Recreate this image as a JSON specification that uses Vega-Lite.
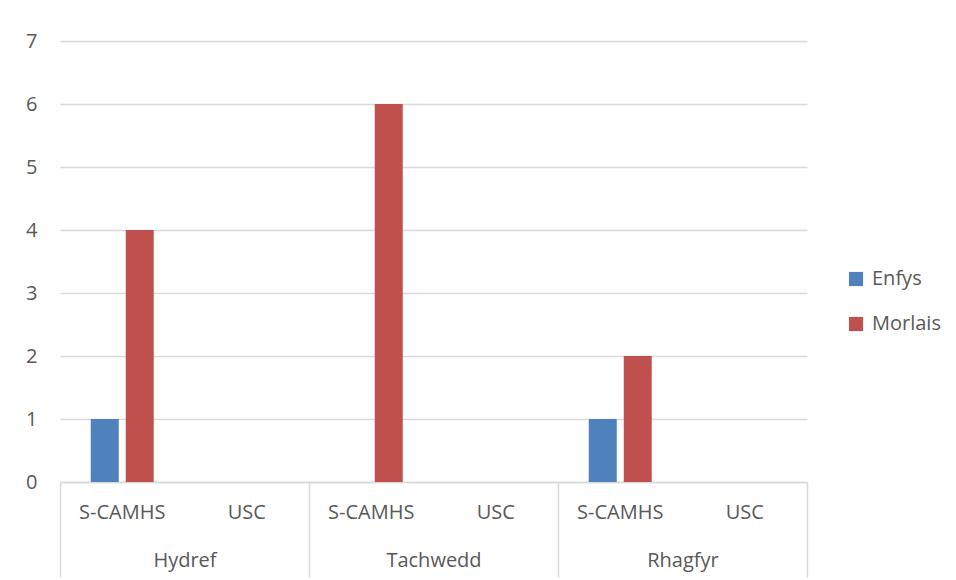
{
  "$schema": "https://vega.github.io/schema/vega-lite/v6.json",
  "width": 747,
  "height": 441,
  "autosize": "none",
  "padding": {"left": 60, "top": 41, "right": 149, "bottom": 98},
  "background": "white",
  "config": {
    "font": "Open Sans",
    "view": {"stroke": null}
  },
  "data": {
    "values": [
      {"cat": "Hydref/S-CAMHS", "month": "Hydref", "sub": "S-CAMHS", "series": "Enfys", "value": 1},
      {"cat": "Hydref/S-CAMHS", "month": "Hydref", "sub": "S-CAMHS", "series": "Morlais", "value": 4},
      {"cat": "Hydref/USC", "month": "Hydref", "sub": "USC", "series": "Enfys", "value": 0},
      {"cat": "Hydref/USC", "month": "Hydref", "sub": "USC", "series": "Morlais", "value": 0},
      {"cat": "Tachwedd/S-CAMHS", "month": "Tachwedd", "sub": "S-CAMHS", "series": "Enfys", "value": 0},
      {"cat": "Tachwedd/S-CAMHS", "month": "Tachwedd", "sub": "S-CAMHS", "series": "Morlais", "value": 6},
      {"cat": "Tachwedd/USC", "month": "Tachwedd", "sub": "USC", "series": "Enfys", "value": 0},
      {"cat": "Tachwedd/USC", "month": "Tachwedd", "sub": "USC", "series": "Morlais", "value": 0},
      {"cat": "Rhagfyr/S-CAMHS", "month": "Rhagfyr", "sub": "S-CAMHS", "series": "Enfys", "value": 1},
      {"cat": "Rhagfyr/S-CAMHS", "month": "Rhagfyr", "sub": "S-CAMHS", "series": "Morlais", "value": 2},
      {"cat": "Rhagfyr/USC", "month": "Rhagfyr", "sub": "USC", "series": "Enfys", "value": 0},
      {"cat": "Rhagfyr/USC", "month": "Rhagfyr", "sub": "USC", "series": "Morlais", "value": 0}
    ]
  },
  "layer": [
    {
      "mark": {"type": "bar"},
      "encoding": {
        "x": {
          "field": "cat",
          "type": "nominal",
          "sort": null,
          "scale": {"paddingInner": 0, "paddingOuter": 0},
          "axis": {
            "orient": "bottom",
            "title": null,
            "labelAngle": 0,
            "labelExpr": "split(datum.label, '/')[1]",
            "labelFontSize": 20,
            "labelColor": "#595959",
            "labelBaseline": "middle",
            "labelPadding": 30,
            "ticks": false,
            "domain": true,
            "domainColor": "#d9d9d9",
            "domainWidth": 1.5,
            "grid": false
          }
        },
        "xOffset": {
          "field": "series",
          "type": "nominal",
          "scale": {"paddingInner": 0.2, "paddingOuter": 0.879}
        },
        "y": {
          "field": "value",
          "type": "quantitative",
          "scale": {"domain": [0, 7], "nice": false},
          "axis": {
            "title": null,
            "values": [0, 1, 2, 3, 4, 5, 6, 7],
            "labelFontSize": 20,
            "labelColor": "#595959",
            "labelPadding": 23,
            "ticks": false,
            "domain": false,
            "grid": true,
            "gridColor": "#d9d9d9",
            "gridWidth": 1.5
          }
        },
        "color": {
          "field": "series",
          "type": "nominal",
          "scale": {"domain": ["Enfys", "Morlais"], "range": ["#4F81BD", "#C0504D"]},
          "legend": {
            "title": null,
            "orient": "none",
            "legendX": 786,
            "legendY": 228,
            "symbolType": "square",
            "symbolSize": 200,
            "symbolStrokeWidth": 0,
            "labelFontSize": 20,
            "labelColor": "#595959",
            "rowPadding": 25,
            "labelOffset": 6
          }
        }
      }
    },
    {
      "mark": {"type": "point", "opacity": 0},
      "encoding": {
        "x": {
          "field": "month",
          "type": "nominal",
          "sort": ["Hydref", "Tachwedd", "Rhagfyr"],
          "scale": {"paddingInner": 0, "paddingOuter": 0},
          "axis": {
            "orient": "bottom",
            "title": null,
            "labelAngle": 0,
            "labelFontSize": 20,
            "labelColor": "#595959",
            "labelBaseline": "middle",
            "labelPadding": -17,
            "tickBand": "extent",
            "ticks": true,
            "tickSize": 95,
            "tickColor": "#d9d9d9",
            "tickWidth": 1.5,
            "domain": false,
            "grid": false
          }
        }
      }
    }
  ],
  "resolve": {"scale": {"x": "independent"}, "axis": {"x": "independent"}}
}
